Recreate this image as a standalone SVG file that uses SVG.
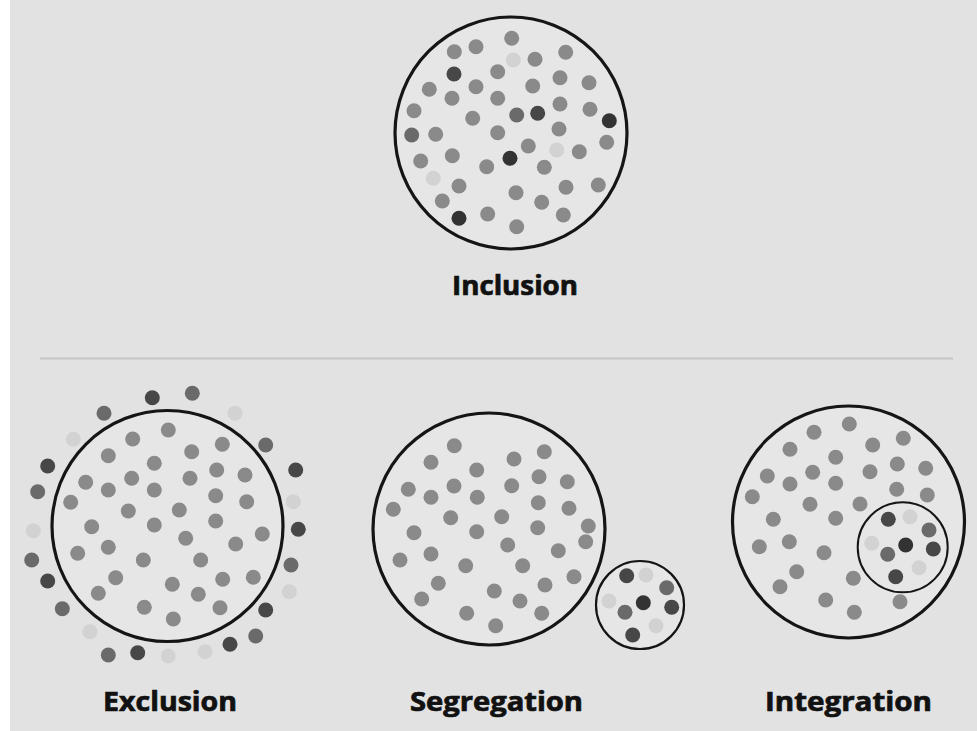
<svg xmlns="http://www.w3.org/2000/svg" width="977" height="731" viewBox="0 0 977 731">
<style>
.bg{fill:#e2e2e2}
.ring{fill:#e6e6e6;stroke:#151515;stroke-width:3.2}
.ring2{fill:none;stroke:#151515;stroke-width:2}
.m{fill:#8a8a8a}
.md{fill:#6a6a6a}
.d{fill:#474747}
.k{fill:#333}
.l{fill:#d2d2d2}
.lab{font-family:"Open Sans","Liberation Sans",sans-serif;font-weight:700;font-size:26px;fill:#111;stroke:#111;stroke-width:0.7}
</style>
<rect x="0" y="0" width="977" height="731" fill="#ffffff"/>
<rect class="bg" x="10" y="0" width="967" height="731"/>
<line x1="40" y1="358.5" x2="953" y2="358.5" stroke="#c4c4c4" stroke-width="2"/>

<g id="inclusion">
<circle class="ring" cx="511" cy="133" r="116"/>
<g>
<circle class="m" cx="511.7" cy="38.3" r="7.5"/>
<circle class="m" cx="476" cy="46.7" r="7.5"/>
<circle class="m" cx="454.3" cy="51.7" r="7.5"/>
<circle class="l" cx="513.3" cy="60" r="7.5"/>
<circle class="m" cx="535" cy="59.3" r="7.5"/>
<circle class="m" cx="565.7" cy="52.3" r="7.5"/>
<circle class="d" cx="454" cy="74" r="7.5"/>
<circle class="m" cx="497.7" cy="71.7" r="7.5"/>
<circle class="m" cx="560" cy="77.7" r="7.5"/>
<circle class="m" cx="589" cy="82.7" r="7.5"/>
<circle class="m" cx="429.3" cy="89.3" r="7.5"/>
<circle class="m" cx="476" cy="86.7" r="7.5"/>
<circle class="m" cx="532.7" cy="86" r="7.5"/>
<circle class="m" cx="452" cy="98.3" r="7.5"/>
<circle class="m" cx="497.7" cy="98.3" r="7.5"/>
<circle class="m" cx="560" cy="104" r="7.5"/>
<circle class="m" cx="590" cy="109.3" r="7.5"/>
<circle class="m" cx="414" cy="110.7" r="7.5"/>
<circle class="m" cx="472.7" cy="118.3" r="7.5"/>
<circle class="md" cx="516.7" cy="115" r="7.5"/>
<circle class="d" cx="537.7" cy="113.3" r="7.5"/>
<circle class="k" cx="609.3" cy="120.7" r="7.5"/>
<circle class="md" cx="411.7" cy="135" r="7.5"/>
<circle class="m" cx="435.7" cy="134.3" r="7.5"/>
<circle class="m" cx="497.7" cy="132.7" r="7.5"/>
<circle class="m" cx="559" cy="129" r="7.5"/>
<circle class="m" cx="606.7" cy="142.3" r="7.5"/>
<circle class="m" cx="528.3" cy="146" r="7.5"/>
<circle class="l" cx="556.7" cy="150" r="7.5"/>
<circle class="m" cx="579.3" cy="151.7" r="7.5"/>
<circle class="m" cx="420.7" cy="161" r="7.5"/>
<circle class="m" cx="452.3" cy="155.7" r="7.5"/>
<circle class="k" cx="510" cy="158.3" r="7.5"/>
<circle class="m" cx="486.7" cy="166.7" r="7.5"/>
<circle class="m" cx="544.3" cy="167.3" r="7.5"/>
<circle class="l" cx="433.3" cy="178.3" r="7.5"/>
<circle class="m" cx="459" cy="186" r="7.5"/>
<circle class="m" cx="516" cy="192.7" r="7.5"/>
<circle class="m" cx="566" cy="187.3" r="7.5"/>
<circle class="m" cx="598.3" cy="185" r="7.5"/>
<circle class="m" cx="442.3" cy="201" r="7.5"/>
<circle class="m" cx="541.7" cy="202.3" r="7.5"/>
<circle class="k" cx="459" cy="218.3" r="7.5"/>
<circle class="m" cx="487.7" cy="214" r="7.5"/>
<circle class="m" cx="563.3" cy="215" r="7.5"/>
<circle class="m" cx="516.7" cy="226.7" r="7.5"/>
</g>
<text class="lab" x="515" y="294.5" text-anchor="middle" textLength="126" lengthAdjust="spacingAndGlyphs">Inclusion</text>
</g>

<g id="exclusion">
<circle class="ring" cx="167.5" cy="526" r="115.5"/>
<g>
<circle class="m" cx="168.3" cy="430" r="7.5"/>
<circle class="m" cx="132.7" cy="439" r="7.5"/>
<circle class="m" cx="222.3" cy="444.3" r="7.5"/>
<circle class="m" cx="108.3" cy="455.7" r="7.5"/>
<circle class="m" cx="191.7" cy="451.7" r="7.5"/>
<circle class="m" cx="154.3" cy="463.3" r="7.5"/>
<circle class="m" cx="216.7" cy="470" r="7.5"/>
<circle class="m" cx="245" cy="475" r="7.5"/>
<circle class="m" cx="85.7" cy="482.3" r="7.5"/>
<circle class="m" cx="131.7" cy="478.3" r="7.5"/>
<circle class="m" cx="190" cy="478.3" r="7.5"/>
<circle class="m" cx="108.3" cy="490" r="7.5"/>
<circle class="m" cx="154.3" cy="490" r="7.5"/>
<circle class="m" cx="215.7" cy="495.7" r="7.5"/>
<circle class="m" cx="246.7" cy="501.7" r="7.5"/>
<circle class="m" cx="70.7" cy="502.3" r="7.5"/>
<circle class="m" cx="128.3" cy="511" r="7.5"/>
<circle class="m" cx="179.3" cy="510" r="7.5"/>
<circle class="m" cx="215.7" cy="521" r="7.5"/>
<circle class="m" cx="91.7" cy="526.7" r="7.5"/>
<circle class="m" cx="154.3" cy="525" r="7.5"/>
<circle class="m" cx="185.7" cy="538.3" r="7.5"/>
<circle class="m" cx="262.3" cy="534" r="7.5"/>
<circle class="m" cx="235.7" cy="544" r="7.5"/>
<circle class="m" cx="77.7" cy="553.3" r="7.5"/>
<circle class="m" cx="108.3" cy="547.3" r="7.5"/>
<circle class="m" cx="143.3" cy="560" r="7.5"/>
<circle class="m" cx="200.7" cy="560" r="7.5"/>
<circle class="m" cx="115.7" cy="577.7" r="7.5"/>
<circle class="m" cx="172.3" cy="584.3" r="7.5"/>
<circle class="m" cx="222.7" cy="579.3" r="7.5"/>
<circle class="m" cx="253.3" cy="577.3" r="7.5"/>
<circle class="m" cx="98.3" cy="593.3" r="7.5"/>
<circle class="m" cx="198.3" cy="594.3" r="7.5"/>
<circle class="m" cx="144.3" cy="607.3" r="7.5"/>
<circle class="m" cx="220" cy="607.7" r="7.5"/>
<circle class="m" cx="173.3" cy="619" r="7.5"/>
</g>
<g>
<circle class="d" cx="152.3" cy="397.7" r="7.5"/>
<circle class="md" cx="192.3" cy="393.3" r="7.5"/>
<circle class="md" cx="104" cy="413.3" r="7.5"/>
<circle class="l" cx="235" cy="413.3" r="7.5"/>
<circle class="l" cx="73.3" cy="439.3" r="7.5"/>
<circle class="md" cx="265.7" cy="445" r="7.5"/>
<circle class="d" cx="47.7" cy="466" r="7.5"/>
<circle class="d" cx="295.7" cy="470" r="7.5"/>
<circle class="md" cx="37.7" cy="491.7" r="7.5"/>
<circle class="l" cx="293.3" cy="501.7" r="7.5"/>
<circle class="l" cx="33.3" cy="530.7" r="7.5"/>
<circle class="d" cx="298.3" cy="529.3" r="7.5"/>
<circle class="md" cx="31.7" cy="560" r="7.5"/>
<circle class="md" cx="291" cy="565" r="7.5"/>
<circle class="d" cx="47.7" cy="581" r="7.5"/>
<circle class="l" cx="289.3" cy="591.7" r="7.5"/>
<circle class="md" cx="62.3" cy="608.7" r="7.5"/>
<circle class="d" cx="265.7" cy="610" r="7.5"/>
<circle class="l" cx="90" cy="631.7" r="7.5"/>
<circle class="md" cx="255.7" cy="636" r="7.5"/>
<circle class="d" cx="230" cy="644.3" r="7.5"/>
<circle class="md" cx="108.3" cy="655" r="7.5"/>
<circle class="d" cx="137.7" cy="652.7" r="7.5"/>
<circle class="l" cx="168.3" cy="656" r="7.5"/>
<circle class="l" cx="205" cy="651.7" r="7.5"/>
</g>
<text class="lab" x="170" y="711" text-anchor="middle" textLength="134" lengthAdjust="spacingAndGlyphs">Exclusion</text>
</g>

<g id="segregation">
<circle class="ring" cx="489" cy="529" r="116"/>
<g>
<circle class="m" cx="454.3" cy="445.7" r="7.5"/>
<circle class="m" cx="431" cy="462.3" r="7.5"/>
<circle class="m" cx="514" cy="459" r="7.5"/>
<circle class="m" cx="544.3" cy="451.7" r="7.5"/>
<circle class="m" cx="476.7" cy="470" r="7.5"/>
<circle class="m" cx="539" cy="476.7" r="7.5"/>
<circle class="m" cx="567.3" cy="481.7" r="7.5"/>
<circle class="m" cx="408.3" cy="489.3" r="7.5"/>
<circle class="m" cx="454" cy="486" r="7.5"/>
<circle class="m" cx="511.7" cy="485.7" r="7.5"/>
<circle class="m" cx="431" cy="497.3" r="7.5"/>
<circle class="m" cx="477.3" cy="497.3" r="7.5"/>
<circle class="m" cx="538.3" cy="502.7" r="7.5"/>
<circle class="m" cx="569" cy="508.3" r="7.5"/>
<circle class="m" cx="393.3" cy="509.3" r="7.5"/>
<circle class="m" cx="450.7" cy="517.7" r="7.5"/>
<circle class="m" cx="501.7" cy="516.7" r="7.5"/>
<circle class="m" cx="537.7" cy="527.7" r="7.5"/>
<circle class="m" cx="588.3" cy="526" r="7.5"/>
<circle class="m" cx="414" cy="532.7" r="7.5"/>
<circle class="m" cx="476.7" cy="531.7" r="7.5"/>
<circle class="m" cx="585.7" cy="541.7" r="7.5"/>
<circle class="m" cx="507.7" cy="545" r="7.5"/>
<circle class="m" cx="558.3" cy="550.7" r="7.5"/>
<circle class="m" cx="431" cy="554" r="7.5"/>
<circle class="m" cx="400" cy="560" r="7.5"/>
<circle class="m" cx="465.7" cy="565.7" r="7.5"/>
<circle class="m" cx="522.7" cy="565.7" r="7.5"/>
<circle class="m" cx="574" cy="576.7" r="7.5"/>
<circle class="m" cx="438.3" cy="583.3" r="7.5"/>
<circle class="m" cx="545" cy="585" r="7.5"/>
<circle class="m" cx="494.3" cy="591" r="7.5"/>
<circle class="m" cx="421.7" cy="599" r="7.5"/>
<circle class="m" cx="520" cy="601" r="7.5"/>
<circle class="m" cx="466.7" cy="613.3" r="7.5"/>
<circle class="m" cx="541.7" cy="613.3" r="7.5"/>
<circle class="m" cx="495.7" cy="625.7" r="7.5"/>
</g>
<circle class="ring" cx="640" cy="605" r="44" style="stroke-width:2.2"/>
<g>
<circle class="d" cx="626.7" cy="575.7" r="7.5"/>
<circle class="l" cx="646" cy="575" r="7.5"/>
<circle class="md" cx="666.7" cy="587.7" r="7.5"/>
<circle class="l" cx="609" cy="601" r="7.5"/>
<circle class="k" cx="643.3" cy="602.7" r="7.5"/>
<circle class="d" cx="671.7" cy="607.3" r="7.5"/>
<circle class="md" cx="625" cy="612.3" r="7.5"/>
<circle class="l" cx="656" cy="625.7" r="7.5"/>
<circle class="d" cx="632.7" cy="635" r="7.5"/>
</g>
<text class="lab" x="496.5" y="711" text-anchor="middle" textLength="173" lengthAdjust="spacingAndGlyphs">Segregation</text>
</g>

<g id="integration">
<circle class="ring" cx="848.5" cy="522" r="116"/>
<g>
<circle class="m" cx="849.3" cy="424" r="7.5"/>
<circle class="m" cx="814" cy="432.3" r="7.5"/>
<circle class="m" cx="903.3" cy="438.3" r="7.5"/>
<circle class="m" cx="872.7" cy="445" r="7.5"/>
<circle class="m" cx="790" cy="449.3" r="7.5"/>
<circle class="m" cx="835.7" cy="457.3" r="7.5"/>
<circle class="m" cx="897.3" cy="464" r="7.5"/>
<circle class="m" cx="925.7" cy="468.3" r="7.5"/>
<circle class="m" cx="767.3" cy="476" r="7.5"/>
<circle class="m" cx="812.7" cy="472.3" r="7.5"/>
<circle class="m" cx="870" cy="471.7" r="7.5"/>
<circle class="m" cx="790" cy="484" r="7.5"/>
<circle class="m" cx="835.7" cy="483.3" r="7.5"/>
<circle class="m" cx="896.7" cy="489.3" r="7.5"/>
<circle class="m" cx="927.3" cy="495" r="7.5"/>
<circle class="m" cx="752.3" cy="496.7" r="7.5"/>
<circle class="m" cx="810" cy="504.3" r="7.5"/>
<circle class="m" cx="860" cy="504" r="7.5"/>
<circle class="m" cx="773.3" cy="519.3" r="7.5"/>
<circle class="m" cx="835.7" cy="518.3" r="7.5"/>
<circle class="m" cx="789.3" cy="541.7" r="7.5"/>
<circle class="m" cx="759.3" cy="546.7" r="7.5"/>
<circle class="m" cx="824" cy="552.7" r="7.5"/>
<circle class="m" cx="796.7" cy="571.7" r="7.5"/>
<circle class="m" cx="853.3" cy="578.3" r="7.5"/>
<circle class="m" cx="780" cy="586.7" r="7.5"/>
<circle class="m" cx="825.7" cy="600" r="7.5"/>
<circle class="m" cx="900" cy="601.7" r="7.5"/>
<circle class="m" cx="854.3" cy="612.3" r="7.5"/>
</g>
<circle class="ring2" cx="902.7" cy="547.3" r="45"/>
<g>
<circle class="d" cx="888.3" cy="519.3" r="7.5"/>
<circle class="l" cx="910" cy="516.7" r="7.5"/>
<circle class="md" cx="929" cy="530" r="7.5"/>
<circle class="l" cx="871.7" cy="543.3" r="7.5"/>
<circle class="k" cx="905.7" cy="545" r="7.5"/>
<circle class="d" cx="933.3" cy="549" r="7.5"/>
<circle class="md" cx="887.7" cy="554.3" r="7.5"/>
<circle class="l" cx="919" cy="567.7" r="7.5"/>
<circle class="d" cx="895.7" cy="576.7" r="7.5"/>
</g>
<text class="lab" x="848.5" y="711" text-anchor="middle" textLength="167" lengthAdjust="spacingAndGlyphs">Integration</text>
</g>
</svg>
